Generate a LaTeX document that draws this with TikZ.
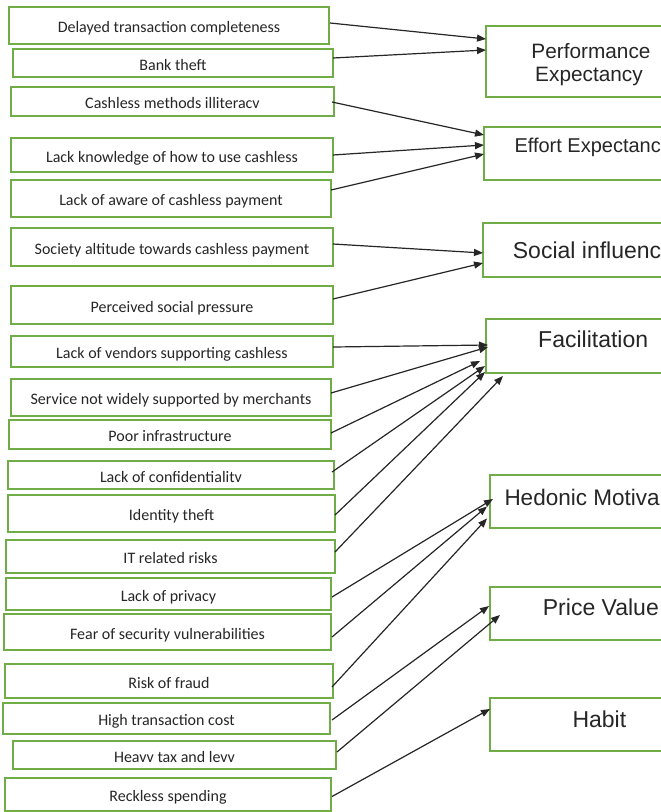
\documentclass[tikz,border=0pt]{standalone}
\usepackage{fontspec}
\setmainfont{Carlito}
\newfontfamily\arialf{Liberation Sans}
\usetikzlibrary{arrows.meta,calc}
\definecolor{boxgreen}{HTML}{70AD47}
\definecolor{ink}{HTML}{262626}
\newcommand\leftbox[6]{\node[lbox,minimum width={#4pt-#2pt},minimum height={#5pt-#3pt}] (#1) at ({(#2+#4)/2},{(#3+#5)/2}) {#6};}
\newcommand\rightbox[4]{\node[rbox,minimum width={720pt-#2pt},minimum height={#4pt-#3pt}] (#1) at ({(#2+720)/2},{(#3+#4)/2}) {};}
\begin{document}
\begin{tikzpicture}[x=1pt,y=-1pt,
  lbox/.style={draw=boxgreen,line width=1.3pt,inner sep=0pt,outer sep=0pt,
    text height=14pt,text depth=0pt,font=\fontsize{16}{19}\selectfont,text=ink},
  rbox/.style={draw=boxgreen,line width=1.3pt,inner sep=0pt,outer sep=0pt},
  rtxt/.style={inner sep=0pt,anchor=base west,text=ink,font=\arialf\fontsize{23}{26}\selectfont},
  rtxts/.style={rtxt,font=\arialf\fontsize{20.8}{24}\selectfont},
  arr/.style={-{Triangle[length=9pt,width=7pt]},line width=1.2pt,draw=ink}]
\useasboundingbox (0,0) rectangle (661,812);
\fill[white] (0,0) rectangle (661,812);
\clip (0,0) rectangle (661,812);
% left boxes
\leftbox{L1}{9}{7}{329}{44}{Delayed transaction completeness}
\leftbox{L2}{13}{49}{333}{77}{Bank theft}
\leftbox{L3}{11}{87}{334}{116}{Cashless methods illiteracv}
\leftbox{L4}{11}{138}{333}{172}{Lack knowledge of how to use cashless}
\leftbox{L5}{11}{180}{331}{217}{Lack of aware of cashless payment}
\leftbox{L6}{11}{228}{333}{266}{Society altitude towards cashless payment}
\leftbox{L7}{11}{286}{333}{324}{Perceived social pressure}
\leftbox{L8}{11}{336}{333}{367}{Lack of vendors supporting cashless}
\leftbox{L9}{11}{379}{331}{416}{Service not widely supported by merchants}
\leftbox{L10}{9}{420}{331}{449}{Poor infrastructure}
\leftbox{L11}{8}{461}{334}{489}{Lack of confidentialitv}
\leftbox{L12}{8}{495}{335}{532}{Identity theft}
\leftbox{L13}{6}{540}{335}{573}{IT related risks}
\leftbox{L14}{6}{578}{331}{610}{Lack of privacy}
\leftbox{L15}{4}{614}{331}{650}{Fear of security vulnerabilities}
\leftbox{L16}{5}{664}{333}{698}{Risk of fraud}
\leftbox{L17}{3}{703}{330}{734}{High transaction cost}
\leftbox{L18}{13}{741}{336}{769}{Heavv tax and levv}
\leftbox{L19}{5}{778}{331}{811}{Reckless spending}
% right boxes
\rightbox{pe}{486}{26}{97}
\rightbox{ee}{484}{127}{180}
\rightbox{si}{483}{223}{277}
\rightbox{fac}{486}{319}{373}
\rightbox{hed}{490}{475}{528}
\rightbox{pv}{490}{587}{640}
\rightbox{hab}{490}{698}{751}
% right texts
\node[rtxts,anchor=base] (tpe1) at (591,58.3) {Performance};
\node[rtxts,anchor=base] (tpe2) at (589,81.7) {Expectancy};
\node[rtxt,font=\arialf\fontsize{20}{24}\selectfont] (tee) at (514.3,152.7) {Effort Expectanc};
\node[rtxt] (tsi) at (512.7,258.5) {Social influenc};
\node[rtxt] (tfac) at (538,347.3) {Facilitation};
\node[rtxt,font=\arialf\fontsize{22.5}{26}\selectfont] (thed) at (504.3,505) {Hedonic Motiva};
\node[rtxt] (tpv) at (542.7,615.7) {Price Value};
\node[rtxt] (thab) at (572.3,727) {Habit};
% arrows
\draw[arr] ([shift={(1,-2.5)}]L1.east) -- ([shift={(0,-22.5)}]pe.west);
\draw[arr] ([shift={(0,-5)}]L2.east) -- ([shift={(0,-11.5)}]pe.west);
\draw[arr] ([shift={(-2,0.5)}]L3.east) -- ([shift={(0,-18.5)}]ee.west);
\draw[arr] (L4.east) -- ([shift={(0,-8.5)}]ee.west);
\draw[arr] ([shift={(0,-8.5)}]L5.east) -- ([shift={(0,0.5)}]ee.west);
\draw[arr] ([shift={(0,-3)}]L6.east) -- ([shift={(0,3)}]si.west);
\draw[arr] ([shift={(0,-6)}]L7.east) -- ([shift={(0,13)}]si.west);
\draw[arr] ([shift={(0,-4.5)}]L8.east) -- ([shift={(2,-1)}]fac.west);
\draw[arr] ([shift={(0,-4.5)}]L9.east) -- ([shift={(2,1)}]fac.west);
\draw[arr] ([shift={(0,-1.5)}]L10.east) -- ([shift={(-6,15)}]fac.west);
\draw[arr] ([shift={(-2,-3)}]L11.east) -- ([shift={(-1,20)}]fac.west);
\draw[arr] ([shift={(0,1.5)}]L12.east) -- ([shift={(-1,26)}]fac.west);
\draw[arr] ([shift={(0,-4.5)}]L13.east) -- ([shift={(17,30)}]fac.west);
\draw[arr] ([shift={(1,3)}]L14.east) -- ([shift={(3,-2.5)}]hed.west);
\draw[arr] ([shift={(1,5)}]L15.east) -- ([shift={(-3,5)}]hed.west);
\draw[arr] ([shift={(-1,6)}]L16.east) -- ([shift={(-3,17)}]hed.west);
\draw[arr] ([shift={(2,1.5)}]L17.east) -- ([shift={(-1,-7.5)}]pv.west);
\draw[arr] ([shift={(1,-3)}]L18.east) -- ([shift={(10,1.5)}]pv.west);
\draw[arr] ([shift={(1,2)}]L19.east) -- ([shift={(0,-15.5)}]hab.west);
\end{tikzpicture}
\end{document}
